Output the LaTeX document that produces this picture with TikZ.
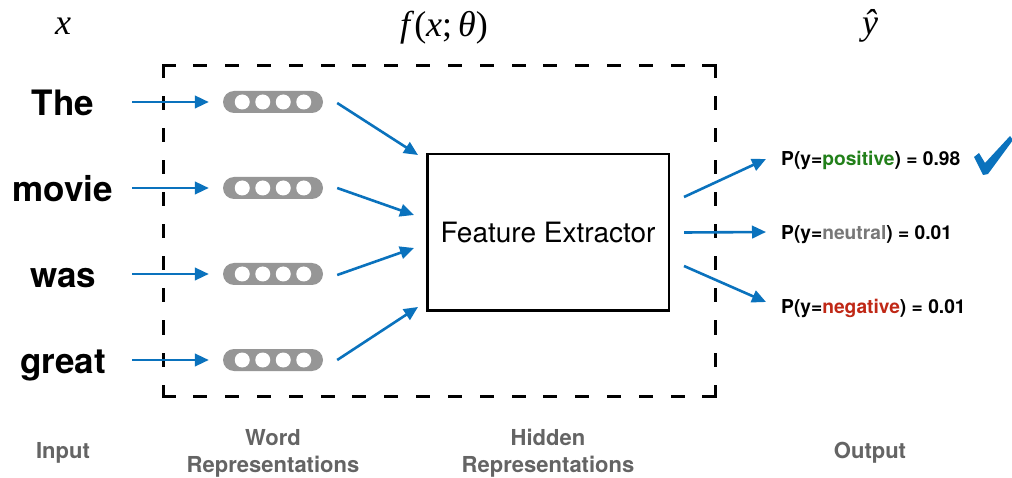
\documentclass[tikz,border=0pt]{standalone}
\usepackage{fontspec}
\setmainfont{TeX Gyre Heros}
\newfontfamily\serifmath{Liberation Serif}
\usetikzlibrary{arrows.meta,calc}
\definecolor{flowblue}{RGB}{10,114,189}
\definecolor{pillgray}{RGB}{150,150,150}
\definecolor{labelgray}{RGB}{100,100,100}
\definecolor{posgreen}{RGB}{34,128,26}
\definecolor{neugray}{RGB}{120,120,120}
\definecolor{negred}{RGB}{192,40,22}

\begin{document}
\begin{tikzpicture}[x=1pt,y=-1pt,
  flow/.style={draw=flowblue, line width=2.6pt, -{Triangle[length=14pt,width=12.5pt]}},
  frameline/.style={line width=3pt, line cap=rect},
  word/.style={font=\fontsize{35}{40}\selectfont\bfseries, inner sep=0pt, anchor=base},
  pill/.style={fill=pillgray, rounded corners=11pt, minimum width=100pt, minimum height=22pt, inner sep=0pt},
  extractor/.style={draw, line width=2.5pt, minimum width=241.5pt, minimum height=156.5pt, font=\fontsize{28}{32}\selectfont},
  outlab/.style={font=\fontsize{19.2}{22}\selectfont\bfseries, inner sep=0pt, anchor=base west},
  bottomlab/.style={font=\fontsize{22}{27}\selectfont\bfseries, text=labelgray, align=center, inner sep=0pt},
  mathlab/.style={font=\serifmath\fontsize{36}{40}\selectfont, inner sep=0pt, anchor=base}
]
\fill[white] (0,0) rectangle (1012,478);
\useasboundingbox (0,0) rectangle (1012,478);

% math headings
\node[mathlab] (hx) at (63,35) {\textit{x}};
\node[mathlab] (hf) at (444,37) {\textit{f}(\textit{x};\,\textit{θ})};
\node[mathlab] (hy) at (870,35) {\textit{ŷ}};

% dashed model frame, one side at a time so every corner is solid
\draw[frameline, dash pattern=on 11pt off 20.82pt] (163,66) -- (715,66);
\draw[frameline, dash pattern=on 11pt off 20.82pt] (163,396) -- (715,396);
\draw[frameline, dash pattern=on 11pt off 21pt] (163,66) -- (163,396);
\draw[frameline, dash pattern=on 11pt off 21pt] (715,66) -- (715,396);

% input words, word vectors and their arrows
\foreach \i/\w/\r in {1/The/102, 2/movie/188, 3/was/274, 4/great/360} {
  \node[word] (w\i) at (63,\r+13.5) {\w};
  \coordinate (s\i) at (132,\r);
  \node[pill] (p\i) at (273,\r) {};
  \foreach \dx in {-30.75,-10.25,10.25,30.75}
    \fill[white] ($(p\i)+(\dx,0)$) circle[radius=7.5pt];
  \draw[flow] (s\i) -- ($(p\i.west)+(-14,0)$);
}

% feature extractor
\node[extractor] (fe) at (548,232.5) {Feature Extractor};

\coordinate (e1) at (418,155);
\coordinate (e2) at (414,215);
\coordinate (e3) at (414,248);
\coordinate (e4) at (418,307);
\draw[flow] ($(p1.east)+(14,1)$) -- (e1);
\draw[flow] ($(p2.east)+(14,0)$) -- (e2);
\draw[flow] ($(p3.east)+(14,1)$) -- (e3);
\draw[flow] ($(p4.east)+(14,0)$) -- (e4);

% output distribution
\node[outlab] (o1) at (781,166) {P(y=\textcolor{posgreen}{positive}) = 0.98};
\node[outlab] (o2) at (781,240) {P(y=\textcolor{neugray}{neutral}) = 0.01};
\node[outlab] (o3) at (781,314) {P(y=\textcolor{negred}{negative}) = 0.01};

\coordinate (t1) at (766,159);
\coordinate (t2) at (766,232);
\coordinate (t3) at (766,302);
\draw[flow] ($(fe.east)+(14,-35.5)$) -- (t1);
\draw[flow] ($(fe.east)+(14,0)$) -- (t2);
\draw[flow] ($(fe.east)+(14,33.5)$) -- (t3);

% check mark next to the winning class
\fill[flowblue] (974,157) -- (979,153) -- (985,163) -- (1010,136) -- (1013,140)
  -- (988,174) -- (983,175) -- cycle;

% stage captions
\node[bottomlab] (c1) at (63,453) {Input};
\node[bottomlab] (c2) at (273,453.5) {Word\\Representations};
\node[bottomlab] (c3) at (548,453.5) {Hidden\\Representations};
\node[bottomlab] (c4) at (870,453) {Output};
\end{tikzpicture}
\end{document}
